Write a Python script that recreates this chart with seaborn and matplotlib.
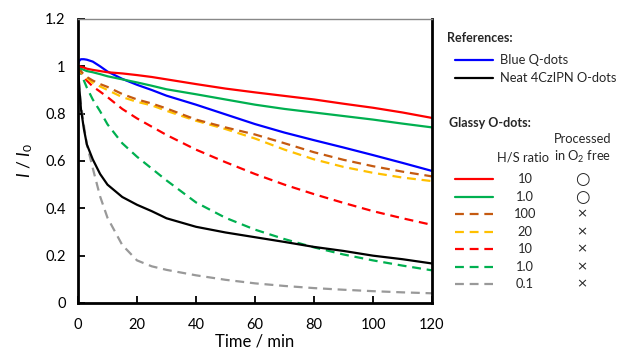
import numpy as np
import pandas as pd
import matplotlib
matplotlib.use('Agg')
import matplotlib.pyplot as plt
from matplotlib.lines import Line2D
import seaborn as sns

# Datos (I/I0 frente al tiempo en min)
tiempo = [0, 0.5, 1, 2, 3, 5, 7.5, 10, 15, 20, 25, 30, 40, 50, 60, 70, 80, 90, 100, 110, 120]

blue_qdots = [1.01, 1.025, 1.03, 1.03, 1.028, 1.02, 1.0, 0.978, 0.947, 0.922, 0.9, 0.876, 0.838,
              0.797, 0.756, 0.72, 0.688, 0.657, 0.625, 0.592, 0.558]
neat_4czipn = [1.0, 0.9, 0.82, 0.735, 0.67, 0.607, 0.545, 0.5, 0.448, 0.415, 0.388, 0.358, 0.322,
               0.298, 0.278, 0.258, 0.237, 0.22, 0.2, 0.185, 0.167]
hs10_o2free = [1.0, 1.0, 0.998, 0.995, 0.99, 0.985, 0.98, 0.975, 0.97, 0.963, 0.955, 0.945, 0.925,
               0.906, 0.89, 0.875, 0.86, 0.842, 0.825, 0.805, 0.782]
hs1_o2free = [1.0, 0.995, 0.99, 0.985, 0.98, 0.975, 0.967, 0.958, 0.945, 0.932, 0.918, 0.903, 0.882,
              0.86, 0.838, 0.82, 0.805, 0.79, 0.775, 0.758, 0.742]
hs100 = [1.0, 0.99, 0.98, 0.965, 0.955, 0.94, 0.925, 0.913, 0.883, 0.86, 0.843, 0.822, 0.775,
         0.742, 0.712, 0.675, 0.637, 0.605, 0.578, 0.555, 0.535]
hs20 = [1.0, 0.985, 0.975, 0.96, 0.95, 0.93, 0.915, 0.9, 0.87, 0.85, 0.835, 0.812, 0.77,
        0.735, 0.695, 0.648, 0.607, 0.575, 0.55, 0.53, 0.515]
hs10 = [1.0, 0.99, 0.975, 0.955, 0.94, 0.915, 0.893, 0.87, 0.82, 0.78, 0.745, 0.71, 0.648,
        0.595, 0.545, 0.5, 0.46, 0.423, 0.388, 0.358, 0.33]
hs1 = [1.0, 0.985, 0.97, 0.94, 0.91, 0.86, 0.81, 0.755, 0.675, 0.618, 0.568, 0.518, 0.425,
       0.36, 0.31, 0.27, 0.235, 0.205, 0.18, 0.158, 0.138]
hs01 = [1.0, 0.9, 0.84, 0.75, 0.67, 0.57, 0.45, 0.36, 0.245, 0.18, 0.155, 0.14, 0.117,
        0.098, 0.083, 0.072, 0.063, 0.056, 0.05, 0.045, 0.041]

ref_labels = ['Blue Q-dots', 'Neat 4CzIPN O-dots']
glassy_ratios = ['10', '1.0', '100', '20', '10', '1.0', '0.1']
glassy_o2free = ['○', '○', '×', '×', '×', '×', '×']

# Estilo
sns.set_theme(style='white')
plt.rcParams['font.family'] = ['Lato', 'DejaVu Sans']
plt.rcParams['mathtext.fontset'] = 'custom'
plt.rcParams['mathtext.rm'] = 'Lato'
plt.rcParams['mathtext.it'] = 'Lato:italic'

DASH = (0, (4, 2.6))
series = [
    (hs01, '#999999', DASH),
    (hs1, '#00B050', DASH),
    (hs10, '#FF0000', DASH),
    (hs20, '#FFC000', DASH),
    (hs100, '#C55A11', DASH),
    (neat_4czipn, '#000000', '-'),
    (blue_qdots, '#0000FF', '-'),
    (hs1_o2free, '#00B050', '-'),
    (hs10_o2free, '#FF0000', '-'),
]

fig = plt.figure(figsize=(6.21, 3.61), dpi=100)
ax = fig.add_axes([78/621, 1 - 303/361, (432-78)/621, (303-19)/361])

for vals, color, ls in series:
    sns.lineplot(x=tiempo, y=vals, ax=ax, color=color, linestyle=ls, linewidth=1.6)

ax.set_xlim(0, 120)
ax.set_ylim(0, 1.2)
ax.set_xticks(np.arange(0, 121, 20))
ax.set_yticks(np.arange(0, 1.21, 0.2))
ax.set_yticklabels(['0', '0.2', '0.4', '0.6', '0.8', '1', '1.2'])
ax.tick_params(direction='in', length=5, width=1.3, labelsize=10.5, colors='black',
               left=True, bottom=True)
ax.tick_params(axis='y', pad=9)
ax.tick_params(axis='x', pad=11)
for side in ['left', 'bottom', 'right']:
    ax.spines[side].set_color('black')
    ax.spines[side].set_linewidth(2)
ax.spines['top'].set_color('#888888')
ax.spines['top'].set_linewidth(1)
ax.set_xlabel('Time / min', fontsize=12, color='black', labelpad=1)
ax.set_ylabel(r'$I$ / $I_0$', fontsize=12.5, color='black', labelpad=7)

# Leyenda manual
def fx(px):
    return px / 621

def fy(py):
    return 1 - py / 361

fig.text(fx(447), fy(38), 'References:', fontsize=9, fontweight='bold', va='center')
ref_colors = ['#0000FF', '#000000']
for i, (lab, col) in enumerate(zip(ref_labels, ref_colors)):
    y = 60 + i * 17.5
    fig.add_artist(Line2D([fx(455), fx(493)], [fy(y), fy(y)], color=col, lw=1.6))
    fig.text(fx(500), fy(y), lab, fontsize=9.3, va='center')

fig.text(fx(449), fy(123), 'Glassy O-dots:', fontsize=9, fontweight='bold', va='center')
fig.text(fx(583), fy(139), 'Processed', fontsize=9.3, ha='center', va='center')
fig.text(fx(523), fy(157), 'H/S ratio', fontsize=9.3, ha='center', va='center')
fig.text(fx(583), fy(157), r'in O$_2$ free', fontsize=9.3, ha='center', va='center')

glassy_styles = [('#FF0000', '-'), ('#00B050', '-'), ('#C55A11', DASH), ('#FFC000', DASH),
                 ('#FF0000', DASH), ('#00B050', DASH), ('#999999', DASH)]
for i, (ratio, mark, (col, ls)) in enumerate(zip(glassy_ratios, glassy_o2free, glassy_styles)):
    y = 179 + i * 17.55
    fig.add_artist(Line2D([fx(455), fx(493)], [fy(y), fy(y)], color=col, lw=1.6, linestyle=ls))
    fig.text(fx(525), fy(y), ratio, fontsize=9.3, ha='center', va='center')
    fig.text(fx(582), fy(y), mark, fontsize=12 if mark == '○' else 9.5, ha='center', va='center',
             family=['DejaVu Sans'])

plt.savefig('out.png', dpi=100)
